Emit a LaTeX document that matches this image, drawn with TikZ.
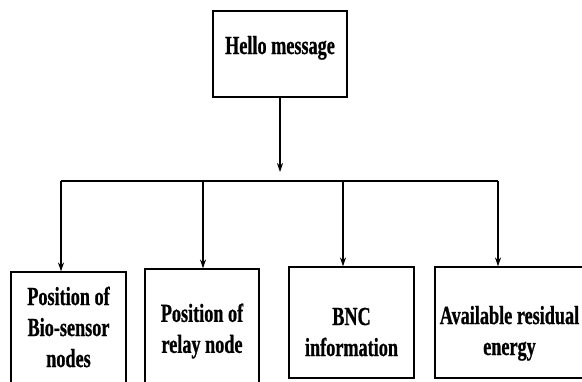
\documentclass[tikz,border=0pt]{standalone}
\usepackage{fontspec}
\setmainfont{Liberation Serif}[FakeStretch=0.70, BoldFeatures={FakeBold=0.8}]
\usetikzlibrary{arrows.meta}
\tikzset{>={Stealth[length=9pt,width=6pt]}}

\begin{document}
\begin{tikzpicture}[x=1pt, y=-1pt, line width=1.1pt,
    box/.style={draw, align=center, inner sep=0pt, font=\bfseries\fontsize{26}{31}\selectfont}]
    \useasboundingbox (0,0) rectangle (582,381);
    \clip (0,0) rectangle (582,381);
    \node[box, minimum width=134pt, minimum height=86pt, text height=18pt, text depth=18pt] (hello) at (280,54) {Hello message};
    \node[box, minimum width=115pt, minimum height=120pt, text height=70pt, text depth=0pt] (biosensor) at (68.5,332) {Position of\\Bio-sensor\\nodes};
    \node[box, minimum width=114pt, minimum height=124pt] (relay) at (202,331) {Position of\\relay node};
    \node[box, minimum width=125pt, minimum height=111pt, text height=67pt, text depth=0pt] (bnc) at (351.5,322.5) {BNC\\information};
    \node[box, minimum width=149pt, minimum height=111pt, text height=70pt, text depth=5pt] (energy) at (509.5,322.5) {Available residual\\energy};
    % bus line
    \coordinate (bus) at (hello.south |- 0,181);
    \coordinate (b1) at (61,181);
    \coordinate (b2) at (203,181);
    \coordinate (b3) at (343,181);
    \coordinate (b4) at (498,181);
    \draw[->] (hello.south) -- ([yshift=9pt]bus);
    \draw (b1) -- (b4);
    \draw[->] (b1) -- (b1 |- biosensor.north);
    \draw[->] (b2) -- (b2 |- relay.north);
    \draw[->] (b3) -- (b3 |- bnc.north);
    \draw[->] (b4) -- (b4 |- energy.north);
\end{tikzpicture}
\end{document}
